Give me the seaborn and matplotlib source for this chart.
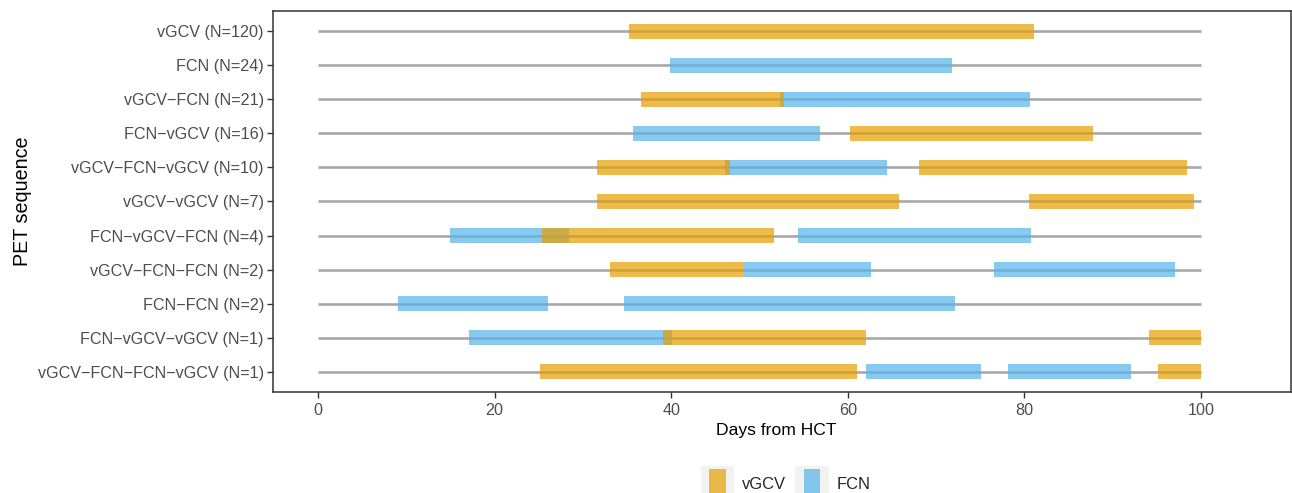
import matplotlib
matplotlib.use("Agg")
import matplotlib.pyplot as plt
from matplotlib.patches import Patch, Rectangle
from matplotlib.legend_handler import HandlerPatch
import seaborn as sns
import pandas as pd

# PET sequences (top to bottom)
sequences = [
    "vGCV (N=120)", "FCN (N=24)", "vGCV\u2212FCN (N=21)", "FCN\u2212vGCV (N=16)",
    "vGCV\u2212FCN\u2212vGCV (N=10)", "vGCV\u2212vGCV (N=7)", "FCN\u2212vGCV\u2212FCN (N=4)",
    "vGCV\u2212FCN\u2212FCN (N=2)", "FCN\u2212FCN (N=2)", "FCN\u2212vGCV\u2212vGCV (N=1)",
    "vGCV\u2212FCN\u2212FCN\u2212vGCV (N=1)",
]

# treatment episodes: row index, drug, start day, end day
seg_row = [0, 1, 2, 2, 3, 3, 4, 4, 4, 5, 5, 6, 6, 6, 7, 7, 7, 8, 8, 9, 9, 9, 10, 10, 10, 10]
seg_drug = ["vGCV", "FCN", "vGCV", "FCN", "FCN", "vGCV", "vGCV", "FCN", "vGCV",
            "vGCV", "vGCV", "FCN", "vGCV", "FCN", "vGCV", "FCN", "FCN", "FCN", "FCN",
            "FCN", "vGCV", "vGCV", "vGCV", "FCN", "FCN", "vGCV"]
seg_start = [35.2, 39.9, 36.6, 52.3, 35.7, 60.2, 31.6, 46.1, 68.1, 31.6, 80.5,
             14.9, 25.4, 54.4, 33.1, 48.2, 76.6, 9.1, 34.6, 17.1, 39.1, 94.1,
             25.1, 62.1, 78.1, 95.1]
seg_end = [81.1, 71.8, 52.8, 80.6, 56.8, 87.8, 46.7, 64.4, 98.4, 65.8, 99.2,
           28.4, 51.6, 80.8, 48.2, 62.6, 97.1, 26.1, 72.1, 40.1, 62.1, 100.0,
           61.1, 75.1, 92.1, 100.0]

followup_start = 0
followup_end = 100

drug_colors = {"vGCV": "#E69F00", "FCN": "#56B4E9"}

segments = pd.DataFrame({
    "row": seg_row, "drug": seg_drug, "start": seg_start, "end": seg_end,
})
segments["length"] = segments["end"] - segments["start"]


class KeyWithBackground(HandlerPatch):
    """Legend key drawn as a coloured block on a light grey key background."""

    def create_artists(self, legend, orig_handle, xdescent, ydescent,
                       width, height, fontsize, trans):
        bg = Rectangle((-xdescent - 0.5 * width, -ydescent - 0.3 * height),
                       2.0 * width, height * 1.7, facecolor="#F2F2F2",
                       edgecolor="none", transform=trans)
        key = Rectangle((-xdescent, -ydescent - 0.3 * height), width,
                        height * 1.55, facecolor=orig_handle.get_facecolor(),
                        edgecolor="none", transform=trans)
        return [bg, key]


sns.set_style("white")
plt.rcParams["font.family"] = ["Liberation Sans", "DejaVu Sans"]

fig = plt.figure(figsize=(12.92, 4.93), dpi=100)
ax = fig.add_axes([0.2113, 0.2049, 0.7879, 0.7728])

# follow-up window line for every sequence
ax.hlines(range(len(sequences)), followup_start, followup_end,
          color="#A8A8A8", linewidth=1.9, zorder=1)

# drug episodes, drawn with transparency so overlaps show through
for drug in ["FCN", "vGCV"]:
    d = segments[segments["drug"] == drug]
    ax.barh(d["row"], d["length"], left=d["start"], height=0.44,
            color=drug_colors[drug], alpha=0.7, linewidth=0, zorder=2)

ax.set_yticks(range(len(sequences)))
ax.set_yticklabels(sequences)
ax.set_ylim(len(sequences) - 0.41, -0.59)
ax.set_xlim(-5.1, 110.2)
ax.set_xticks([0, 20, 40, 60, 80, 100])

ax.tick_params(axis="both", which="both", direction="out", length=4, width=1,
               color="#333333", labelcolor="#4D4D4D", labelsize=11.6)
ax.tick_params(axis="y", pad=2.5)
ax.tick_params(axis="x", pad=4)
ax.xaxis.set_ticks_position("bottom")
ax.yaxis.set_ticks_position("left")

for spine in ax.spines.values():
    spine.set_visible(True)
    spine.set_color("#333333")
    spine.set_linewidth(1.1)

ax.set_xlabel("Days from HCT", fontsize=12.6, color="black", labelpad=3)
ax.xaxis.set_label_coords(0.494, -0.082)
ax.set_ylabel("PET sequence", fontsize=14.2, color="black", labelpad=4)

handles = [Patch(facecolor=drug_colors[k], alpha=0.7, edgecolor="none", label=k)
           for k in ["vGCV", "FCN"]]
leg = fig.legend(handles=handles, loc="center", ncol=2,
                 bbox_to_anchor=(0.6115, 0.020), frameon=False,
                 fontsize=11.9, handlelength=1.0, handleheight=1.4,
                 columnspacing=1.05, handletextpad=1.0,
                 handler_map={Patch: KeyWithBackground()})

fig.savefig("out.png", dpi=100)
